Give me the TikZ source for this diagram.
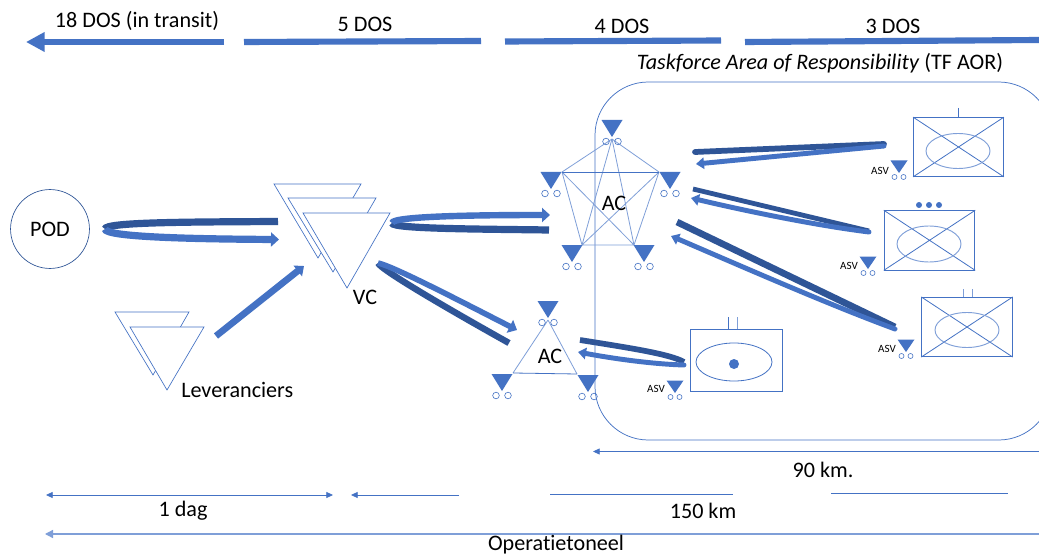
\documentclass[tikz,border=0pt]{standalone}
\usepackage{fontspec}
\setmainfont[Ligatures=NoCommon]{Carlito}
\usetikzlibrary{arrows.meta}
\definecolor{bl}{HTML}{4472C4}
\definecolor{dk}{HTML}{2F5597}
\definecolor{lt}{HTML}{7F9FD8}
\tikzset{
 x=0.75pt,y=-0.75pt,
 lbl/.style={inner sep=0pt,font=\fontsize{16.6}{19}\selectfont,text=black},
 asvlbl/.style={inner sep=0pt,font=\fontsize{8.3}{9}\selectfont,text=black},
 thin blue/.style={draw=bl,line width=0.6pt},
 thin light/.style={draw=lt,line width=0.6pt},
 hollow/.style={draw=bl,line width=0.5pt,fill=white,line join=miter},
 fwd/.style={draw=bl,line width=5.4pt,-{Triangle[length=6pt,width=10.5pt]}},
 fwdn/.style={draw=bl,line width=3.7pt,line cap=round,-{Triangle[length=6pt,width=8.5pt]}},
 back/.style={draw=dk,line width=5.4pt},
 backn/.style={draw=dk,line width=4.3pt},
 dim/.style={thin blue,-{Triangle[length=5pt,width=4.5pt]}},
 dimb/.style={thin blue,{Triangle[length=5pt,width=4.5pt]}-{Triangle[length=5pt,width=4.5pt]}},
 bar/.style={draw=bl,line width=4.6pt},
 bigunit/.pic={
  \fill[bl] (-10.5,-17) -- (10.5,-17) -- (0,0) -- cycle;
  \draw[thin blue,line width=0.45pt] (-6,4.5) circle[radius=3.3] (6,4.5) circle[radius=3.3];
 },
 smallunit/.pic={
  \fill[bl] (-8.5,-12.5) -- (8.5,-12.5) -- (0,0) -- cycle;
  \draw[thin blue,line width=0.45pt] (-4.5,4) circle[radius=2.5] (4.5,4) circle[radius=2.5];
 },
}
\begin{document}
\begin{tikzpicture}
\useasboundingbox (0,0) rectangle (1039,556);
\fill[white] (0,0) rectangle (1039,556);
% top bars
\coordinate (t1a) at (224,42); \coordinate (t1b) at (26,42);
\draw[draw=bl,line width=4.6pt,-{Triangle[length=14pt,width=14pt]}] (t1a) -- (t1b);
\coordinate (t2a) at (244,42); \coordinate (t2b) at (481,41);
\coordinate (t3a) at (505,41.5); \coordinate (t3b) at (721,40.5);
\coordinate (t4a) at (745,42); \coordinate (t4b) at (1039,40);
\draw[bar] (t2a) -- (t2b);
\draw[bar] (t3a) -- (t3b);
\draw[bar] (t4a) -- (t4b);
\node[lbl] (l18) at (137,21) {18 DOS (in transit)};
\node[lbl] (l5) at (365,24) {5 DOS};
\node[lbl] (l4) at (622,26) {4 DOS};
\node[lbl] (l3) at (893,26) {3 DOS};
\node[lbl] (ltf) at (820,63) {\textit{Taskforce Area of Responsibility} (TF AOR)};
% AOR
\begin{scope}
\clip (0,0) rectangle (1039,556);
\draw[draw=bl,line width=0.55pt,rounded corners=40pt] (595,300) -- (595,82) -- (1052,82) -- (1052,440) -- (595,440) -- (595,300);
\end{scope}
% POD
\node[circle,draw=dk,line width=0.5pt,minimum size=59.2pt,inner sep=0pt,lbl] (pod) at (50,229) {POD};
% VC triangles
\draw[hollow] (274,184) -- (361,184) -- (318,258) -- cycle;
\draw[hollow] (288,198) -- (376,198) -- (333,272) -- cycle;
\draw[hollow] (303,213) -- (390,213) -- (347,288) -- cycle;
\node[lbl] (vc) at (365,297) {VC};
% Leveranciers triangles
\draw[hollow] (115,312) -- (189,312) -- (153,375) -- cycle;
\draw[hollow] (130,327) -- (204,327) -- (167,390) -- cycle;
\node[lbl,anchor=west] (lev) at (181,390) {Leveranciers};
% connectors
\coordinate (p1) at (278,221.5); \coordinate (p2) at (105,229); \coordinate (p3) at (105,229); \coordinate (p4) at (279,239.5);
\draw[back] (p1) .. controls (190,222) and (105,222) .. (p2);
\draw[fwd] (p3) .. controls (105,237) and (190,239) .. (p4);
\coordinate (lv) at (216,336); \coordinate (vt) at (304,266);
\draw[draw=bl,line width=5pt,-{Triangle[length=6pt,width=10pt]}] (lv) -- (vt);
\coordinate (v1) at (392,223); \coordinate (a1) at (550,215); \coordinate (a2) at (549,230);
\draw[back] (v1) .. controls (392,229) and (480,229) .. (a2);
\draw[fwd,line width=4.8pt] (v1) .. controls (392,216) and (480,215) .. (a1);
\coordinate (v2) at (378,263); \coordinate (a3) at (517,330); \coordinate (a4) at (509,343);
\draw[back,line width=4.8pt] (v2) .. controls (381,270) and (450,310) .. (a4);
\draw[fwd,line width=4.2pt] (v2) .. controls (395,267) and (460,301) .. (a3);
% AC pentagon
\coordinate (pa) at (612,139); \coordinate (pb) at (562,172); \coordinate (pc) at (659,172); \coordinate (pd) at (582,245); \coordinate (pe) at (634,245);
\draw[thin light] (pa) -- (pb) (pa) -- (pc) (pb) -- (pd) (pc) -- (pe) (pd) -- (pe) (pa) -- (pd) (pa) -- (pe) (pb) -- (pe) (pc) -- (pd);
\draw[thin blue] (pb) -- (pc);
\pic at (612,137) {bigunit};
\pic at (551,189) {bigunit};
\pic at (670,189) {bigunit};
\pic at (572,262) {bigunit};
\pic at (644,262) {bigunit};
\node[lbl] (ac1) at (614,203) {AC};
% AC triangle
\coordinate (ta) at (548,320); \coordinate (tb) at (513,373); \coordinate (tc) at (577,374);
\draw[thin light] (ta) -- (tb) (ta) -- (tc);
\draw[thin blue] (tb) -- (tc);
\pic at (548,318) {bigunit};
\pic at (502,391) {bigunit};
\pic at (588,392) {bigunit};
\node[lbl] (ac2) at (550,356) {AC};
% boxes
\node[draw=bl,line width=0.6pt,minimum width=67.5pt,minimum height=44.2pt,inner sep=0pt] (b1) at (958.5,147) {};
\draw[thin blue] (b1.north west) -- (b1.south east) (b1.north east) -- (b1.south west);
\draw[draw=lt,line width=0.7pt] (958,151) ellipse[x radius=32,y radius=17.5];
\coordinate (b1t) at (958,108); \draw[thin blue] (b1t) -- (b1.north -| b1t);
\pic at (899,173) {smallunit};
\node[asvlbl] (asv1) at (880,171) {ASV};

\node[draw=bl,line width=0.6pt,minimum width=68pt,minimum height=44.5pt,inner sep=0pt] (b2) at (929.5,240.3) {};
\draw[thin blue] (b2.north west) -- (b2.south east) (b2.north east) -- (b2.south west);
\draw[draw=lt,line width=0.7pt] (929,244) ellipse[x radius=32,y radius=18];
\fill[bl] (919,205) circle[radius=3] (929,205) circle[radius=3] (939,205) circle[radius=3];
\pic at (868,269) {smallunit};
\node[asvlbl] (asv2) at (849,266) {ASV};

\node[draw=bl,line width=0.6pt,minimum width=68pt,minimum height=44.5pt,inner sep=0pt] (b3) at (967,327) {};
\draw[thin blue] (b3.north west) -- (b3.south east) (b3.north east) -- (b3.south west);
\draw[draw=lt,line width=0.7pt] (967,330) ellipse[x radius=32,y radius=17.5];
\coordinate (b3t) at (963,289); \coordinate (b3u) at (972,289);
\draw[thin light] (b3t) -- (b3.north -| b3t) (b3u) -- (b3.north -| b3u);
\pic at (906,352) {smallunit};
\node[asvlbl] (asv3) at (887,349) {ASV};

\node[draw=bl,line width=0.6pt,minimum width=69pt,minimum height=46.5pt,inner sep=0pt] (b4) at (736,360) {};
\draw[draw=bl,line width=0.6pt] (734,362) ellipse[x radius=38,y radius=19];
\fill[bl] (734,364) circle[radius=5];
\coordinate (b4t) at (728,317); \coordinate (b4u) at (737,317);
\draw[thin blue] (b4t) -- (b4.north -| b4t);
\draw[thin light] (b4u) -- (b4.north -| b4u);
\pic at (675,393) {smallunit};
\node[asvlbl] (asv4) at (656,389) {ASV};
% loops right
\coordinate (r1a) at (695,152); \coordinate (r1b) at (884,144); \coordinate (r1c) at (884,146); \coordinate (r1d) at (696,164);
\draw[backn,line cap=round] (r1a) -- (r1b);
\draw[fwdn] (r1c) -- (r1d);
\coordinate (r2a) at (693,189); \coordinate (r2b) at (869,231); \coordinate (r2c) at (869,232); \coordinate (r2d) at (691,198);
\draw[backn,line width=3.6pt] (r2a) -- (r2b);
\draw[fwdn] (r2c) .. controls (820,226) and (750,212) .. (r2d);
\coordinate (r3a) at (677,222); \coordinate (r3b) at (895,327); \coordinate (r3c) at (895,329); \coordinate (r3d) at (671,236);
\draw[backn,line width=5pt] (r3a) -- (r3b);
\draw[fwdn] (r3c) .. controls (830,305) and (750,270) .. (r3d);
\coordinate (r4a) at (580,340); \coordinate (r4b) at (684,362); \coordinate (r4c) at (684,365); \coordinate (r4d) at (578,352);
\draw[backn] (r4a) .. controls (630,348) and (670,354) .. (r4b);
\draw[fwdn] (r4c) .. controls (650,364) and (610,358) .. (r4d);
% dimension lines
\coordinate (d90a) at (1039,451.5); \coordinate (d90b) at (593,451.5);
\draw[dim] (d90a) -- (d90b);
\node[lbl] (l90) at (823,470) {90 km.};
\coordinate (d1a) at (46,495); \coordinate (d1b) at (333,495);
\draw[dimb] (d1a) -- (d1b);
\coordinate (d2a) at (459,495); \coordinate (d2b) at (351,495);
\draw[dim] (d2a) -- (d2b);
\coordinate (d3a) at (550,494); \coordinate (d3b) at (733,494);
\draw[thin blue] (d3a) -- (d3b);
\coordinate (d4a) at (831,493); \coordinate (d4b) at (1008,493);
\draw[thin blue] (d4a) -- (d4b);
\node[lbl] (l1) at (183,511) {1 dag};
\node[lbl] (l150) at (703,511) {150 km};
\coordinate (opa) at (1039,534); \coordinate (opb) at (45,534);
\draw[draw=lt,line width=1pt,-{Triangle[length=6pt,width=6pt]}] (opa) -- (opb);
\node[lbl] (lop) at (556,545) {Operatietoneel};
\end{tikzpicture}
\end{document}
